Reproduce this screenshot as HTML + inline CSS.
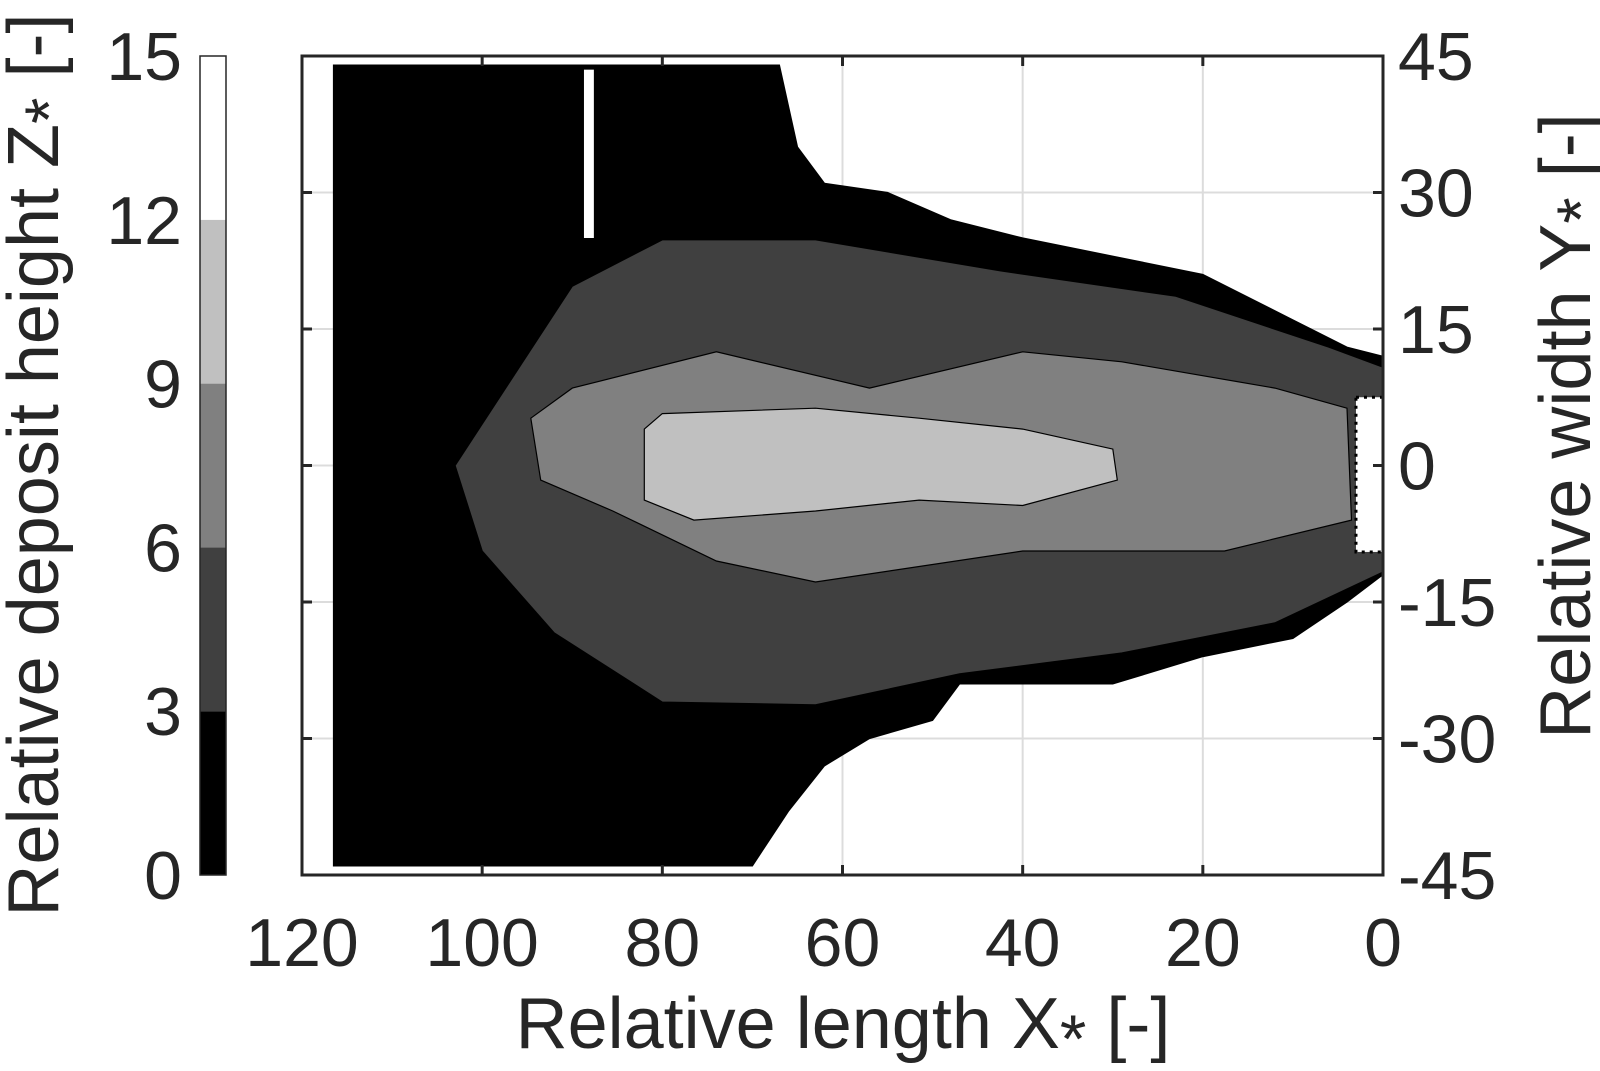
<!DOCTYPE html>
<html><head><meta charset="utf-8"><style>
html,body{margin:0;padding:0;background:#fff;}
svg text{font-family:"Liberation Sans",Arial,sans-serif;fill:#262626;}
</style></head><body>
<svg id="chart" width="1600" height="1066" viewBox="0 0 1600 1066" xmlns="http://www.w3.org/2000/svg">
<g id="plot"></g>
</svg>
<script>
const xTicks=[120,100,80,60,40,20,0];
const yTicks=[45,30,15,0,-15,-30,-45];
const cbLevels=[0,3,6,9,12,15];
const cbColors=['#000000','#404040','#808080','#c0c0c0','#ffffff'];
// contour polygons in data coords (X*, Y*)
const blackX=[116.5,67,65,62,55,48,40,30,20,10,4,0,0,4,10,20,30,40,47,50,57,62,66,70,116.5];
const blackY=[44,44,35,31,30,27,25,23,21,16,13,12,-12,-15,-19,-21,-24,-24,-24,-28,-30,-33,-38,-44,-44];
const dgX=[103,90,80,63,42.5,23,6,0,0,12,29,47,63,80,92,100];
const dgY=[0,19.7,24.8,24.8,21.4,18.6,13,10.8,-11.7,-17.3,-20.6,-22.9,-26.3,-26,-18.4,-9.4];
const mgX=[94.6,90,74,57,40,29,12,4,3.5,17.6,40,63,74,85.5,93.5];
const mgY=[5.2,8.5,12.5,8.5,12.5,11.4,8.5,6.3,-6,-9.4,-9.4,-12.8,-10.5,-5,-1.6];
const lgX=[82,80,63,51.5,40,30,29.5,40,51.5,63,76.5,82];
const lgY=[4,5.7,6.3,5.2,4,1.8,-1.6,-4.4,-3.8,-5,-6,-3.8];
const L=302,R=1383,T=56,B=875;
const sx=v=>R-(v/120)*(R-L);
const sy=v=>T+(45-v)/90*(B-T);
const NS='http://www.w3.org/2000/svg';
const g=document.getElementById('plot');
function mk(tag,attrs,parent){const e=document.createElementNS(NS,tag);for(const k in attrs)e.setAttribute(k,attrs[k]);(parent||g).appendChild(e);return e;}
function poly(xs,ys,fill,name){
  const pts=xs.map((x,i)=>sx(x).toFixed(1)+','+sy(ys[i]).toFixed(1)).join(' ');
  const p=mk('polygon',{points:pts,fill:fill,stroke:'#000','stroke-width':1.2});
  
  
}
xTicks.forEach(t=>{if(t>0&&t<120){const l=mk('line',{x1:sx(t),x2:sx(t),y1:T,y2:B,stroke:'#dcdcdc','stroke-width':2});

}});
yTicks.forEach(t=>{if(t>-45&&t<45){const l=mk('line',{x1:L,x2:R,y1:sy(t),y2:sy(t),stroke:'#dcdcdc','stroke-width':2});

}});
poly(blackX,blackY,'#000','contour-level-0');
const ws=mk('rect',{x:sx(88.7),y:sy(43.5),width:sx(87.6)-sx(88.7),height:sy(25)-sy(43.5),fill:'#fff'});


poly(dgX,dgY,'#404040','contour-level-3');
poly(mgX,mgY,'#808080','contour-level-6');
poly(lgX,lgY,'#c0c0c0','contour-level-9');
const ns=mk('rect',{x:sx(3),y:sy(7.5),width:sx(0)-sx(3),height:sy(-9.5)-sy(7.5),fill:'#fff',stroke:'#000','stroke-width':3,'stroke-dasharray':'3 5'});


const box=mk('rect',{x:L,y:T,width:R-L,height:B-T,fill:'none',stroke:'#262626','stroke-width':3});


xTicks.forEach(t=>{
  mk('line',{x1:sx(t),x2:sx(t),y1:B,y2:B-10,stroke:'#262626','stroke-width':3});
  mk('line',{x1:sx(t),x2:sx(t),y1:T,y2:T+10,stroke:'#262626','stroke-width':3});
  const tx=mk('text',{x:sx(t),y:966,'font-size':68,'text-anchor':'middle'});tx.textContent=t;
  
  
});
yTicks.forEach(t=>{
  mk('line',{x1:L,x2:L+10,y1:sy(t),y2:sy(t),stroke:'#262626','stroke-width':3});
  mk('line',{x1:R,x2:R-10,y1:sy(t),y2:sy(t),stroke:'#262626','stroke-width':3});
  const tx=mk('text',{x:1398,y:sy(t)+24,'font-size':68,'text-anchor':'start'});tx.textContent=t;
  
  
});
const cbL=200,cbR=226;
const cy=v=>B-(v/15)*(B-T);
cbColors.forEach((c,i)=>{const r=mk('rect',{x:cbL,y:cy(cbLevels[i+1]),width:cbR-cbL,height:cy(cbLevels[i])-cy(cbLevels[i+1]),fill:c});

});
mk('rect',{x:cbL,y:T,width:cbR-cbL,height:B-T,fill:'none',stroke:'#262626','stroke-width':1.5});
cbLevels.forEach(v=>{const tx=mk('text',{x:182,y:cy(v)+24,'font-size':68,'text-anchor':'end'});tx.textContent=v;

});
</script>
<svg style="position:absolute;left:0;top:0" width="1600" height="1066" xmlns="http://www.w3.org/2000/svg">
<text x="843" y="1048" font-size="72" text-anchor="middle">Relative length X<tspan font-size="68" dy="14">*</tspan><tspan dy="-14"> [-]</tspan></text>
<text transform="translate(58,465) rotate(-90)" font-size="72" text-anchor="middle">Relative deposit height Z<tspan font-size="68" dy="14">*</tspan><tspan dy="-14"> [-]</tspan></text>
<text transform="translate(1590,426) rotate(-90)" font-size="72" text-anchor="middle">Relative width Y<tspan font-size="68" dy="14">*</tspan><tspan dy="-14"> [-]</tspan></text>
</svg>
</body></html>
